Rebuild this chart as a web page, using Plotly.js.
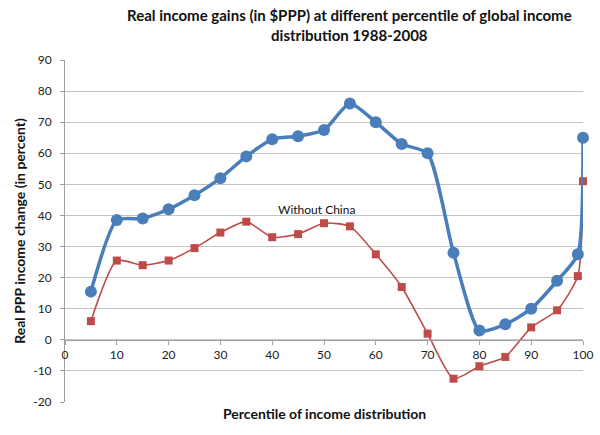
<!DOCTYPE html>
<html><head><meta charset="utf-8">
<script src="https://cdn.plot.ly/plotly-3.0.1.min.js"></script>
<style>html,body{margin:0;padding:0;background:#fff}#c{width:600px;height:435px}</style>
</head><body><div id="c"></div>
<script>
const percentiles = [5,10,15,20,25,30,35,40,45,50,55,60,65,70,75,80,85,90,95,99,100];
const allWorld = [15.5,38.5,39,42,46.5,52,59,64.5,65.5,67.5,76,70,63,60,28,3,5,10,19,27.5,65];
const withoutChina = [6,25.5,24,25.5,29.5,34.5,38,33,34,37.5,36.5,27.5,17,2,-12.5,-8.5,-5.5,4,9.5,20.5,51];
const xTicks = [0,10,20,30,40,50,60,70,80,90,100];
const yTicks = [-20,-10,0,10,20,30,40,50,60,70,80,90];

const font = "Lato, 'Open Sans', sans-serif";
const traces = [
  {x: percentiles, y: withoutChina, type:'scatter', mode:'lines+markers', name:'Without China', cliponaxis:false,
   line:{color:'#be4b48', width:1.6, shape:'spline', smoothing:0.6},
   marker:{symbol:'square', size:8, color:'#be4b48'}},
  {x: percentiles, y: allWorld, type:'scatter', mode:'lines+markers', name:'All', cliponaxis:false,
   line:{color:'#4a7ebb', width:3.5, shape:'spline', smoothing:0.6},
   marker:{symbol:'circle', size:12, color:'#4a7ebb'}}
];
const layout = {
  width:600, height:435, showlegend:false,
  margin:{l:65, r:17, t:60, b:33},
  paper_bgcolor:'#fff', plot_bgcolor:'#fff',
  font:{family:font, size:12, color:'#222'},
  xaxis:{range:[0,100], tickvals:xTicks, ticktext:xTicks.map(String), anchor:'free', position:20/110,
    showline:true, linecolor:'#a0a0a0', linewidth:1, ticks:'outside', ticklen:4, tickcolor:'#a0a0a0',
    showgrid:false, zeroline:false, tickfont:{family:font, size:12, color:'#222'}},
  yaxis:{range:[-20,90], tickvals:yTicks, ticktext:yTicks.map(String), showline:true, linecolor:'#a0a0a0',
    ticks:'outside', ticklen:4, tickcolor:'#a0a0a0', ticklabelstandoff:6, showgrid:true, gridcolor:'#c4c4c4', gridwidth:1,
    zeroline:false, tickfont:{family:font, size:12, color:'#222'},
    title:{text:'<b>Real PPP income change (in percent)</b>', font:{family:font, size:14, color:'#111'}, standoff:4}},
  annotations:[
    {x:0.55, y:1, xref:'paper', yref:'paper', yanchor:'bottom', yshift:14,
     text:'<b>Real income gains (in $PPP) at different percentile of global income<br>distribution 1988-2008</b>',
     showarrow:false, font:{family:font, size:15, color:'#111'}},
    {x:48.5, y:42, xref:'x', yref:'y', text:'Without China', showarrow:false,
     font:{family:font, size:12, color:'#111'}},
    {x:0.5, y:-11/342, xref:'paper', yref:'paper', yanchor:'middle', text:'<b>Percentile of income distribution</b>',
     showarrow:false, font:{family:font, size:14, color:'#111'}}
  ]
};
Plotly.newPlot('c', traces, layout, {displayModeBar:false, staticPlot:true});
</script></body></html>
